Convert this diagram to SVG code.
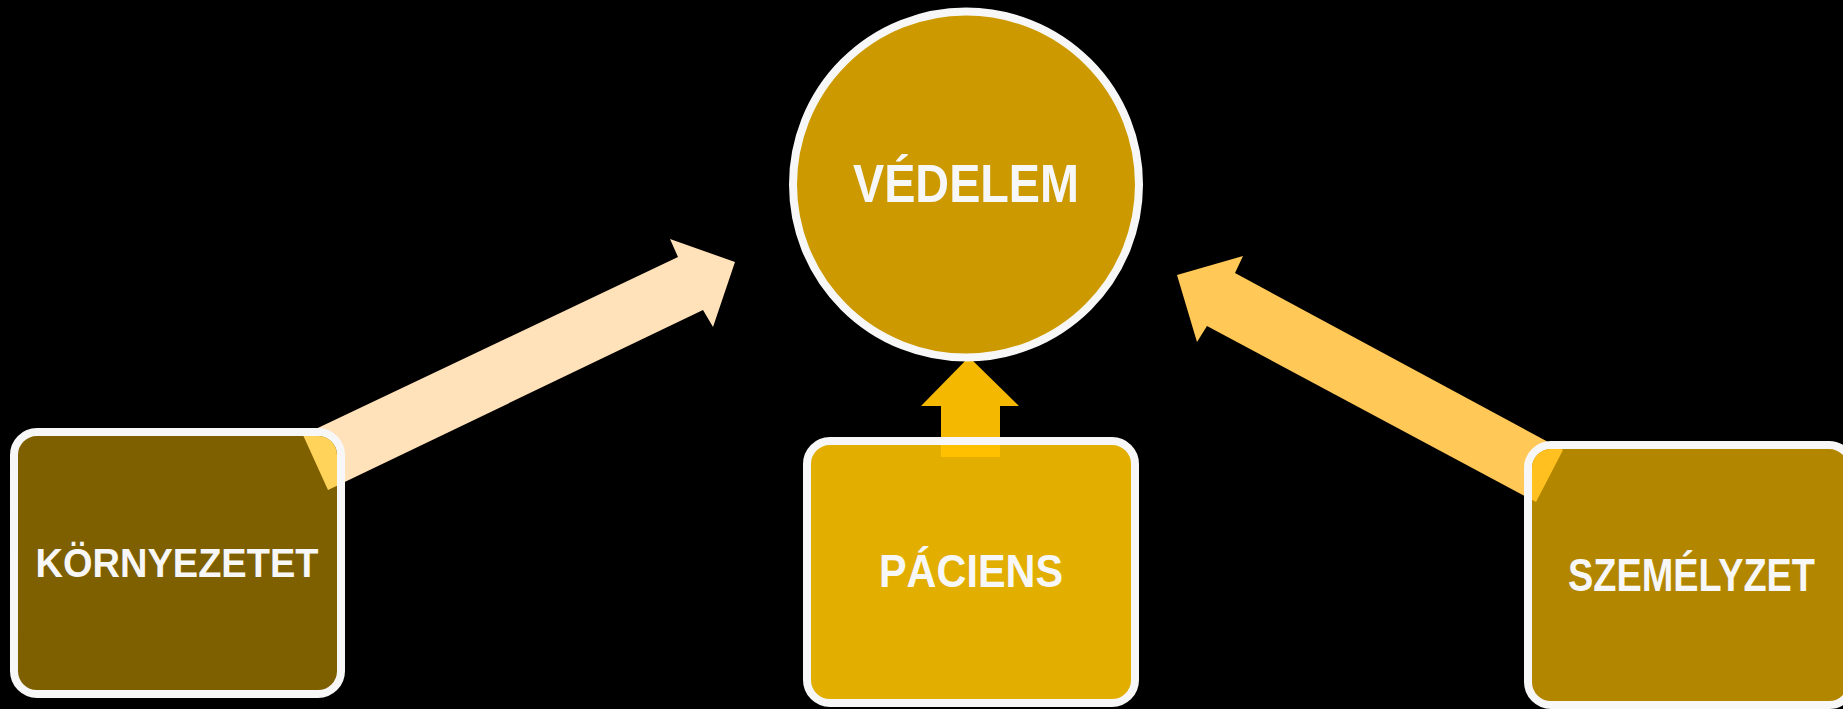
<svg xmlns="http://www.w3.org/2000/svg" width="1843" height="709" viewBox="0 0 1843 709">
<style>
.box{stroke:#F7F7F7;stroke-width:8}
.lbl{font-family:"Liberation Sans",Arial,sans-serif;font-weight:bold;fill:#F7F7F7;text-anchor:middle}
</style>
<defs>
<clipPath id="cL"><rect x="18" y="436" width="319" height="254" rx="19"/></clipPath>
<clipPath id="cM"><rect x="811" y="445" width="320" height="254" rx="19"/></clipPath>
<clipPath id="cR"><rect x="1532" y="449" width="316" height="252" rx="19"/></clipPath>
<polygon id="aL" points="303,435 678,257 670,239 735,262 713,327 703,310 328,490"/>
<polygon id="aM" points="941,457 941,406 921,406 969,357 1019,406 1000,406 1000,457"/>
<polygon id="aR" points="1563,450 1235,273 1243,256 1177,275 1197,342 1207,326 1536,502"/>
</defs>
<rect width="1843" height="709" fill="#000"/>
<g id="connectors">
<use href="#aL" fill="#FFE1BA"/>
<use href="#aM" fill="#F4B800"/>
<use href="#aR" fill="#FFC857"/>
</g>
<g id="vedelem">
<circle cx="966" cy="184.5" r="173" fill="#CC9A00" class="box"/>
<text class="lbl" x="966" y="202" font-size="53" textLength="226" lengthAdjust="spacingAndGlyphs">VÉDELEM</text>
</g>
<g id="kornyezetet">
<rect x="14" y="432" width="327" height="262" rx="23" fill="#7F6000" class="box"/>
<use href="#aL" fill="#FFD25A" clip-path="url(#cL)"/>
<text class="lbl" x="177" y="577" font-size="41" textLength="283" lengthAdjust="spacingAndGlyphs">KÖRNYEZETET</text>
</g>
<g id="paciens">
<rect x="807" y="441" width="328" height="262" rx="23" fill="#E2AE00" class="box"/>
<use href="#aM" fill="#FFC000" clip-path="url(#cM)"/>
<text class="lbl" x="971" y="587" font-size="46" textLength="184" lengthAdjust="spacingAndGlyphs">PÁCIENS</text>
</g>
<g id="szemelyzet">
<rect x="1528" y="445" width="324" height="260" rx="23" fill="#B38600" class="box"/>
<use href="#aR" fill="#FFC020" clip-path="url(#cR)"/>
<text class="lbl" x="1691.5" y="591" font-size="46" textLength="247" lengthAdjust="spacingAndGlyphs">SZEMÉLYZET</text>
</g>
</svg>
